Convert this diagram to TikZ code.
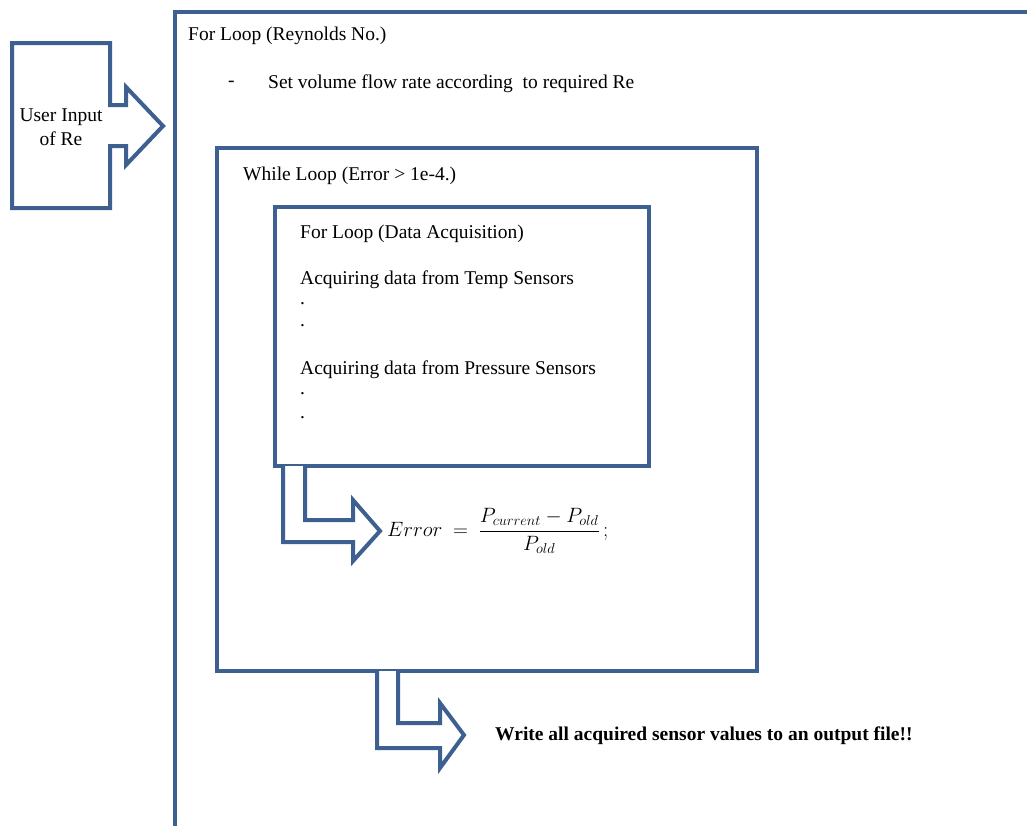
\documentclass[tikz,border=0pt]{standalone}
\usepackage{fontspec}
\setmainfont{Liberation Serif}
\usetikzlibrary{positioning,calc}
\definecolor{loopBlue}{HTML}{3E6091}
\tikzset{
    loopBox/.style={draw=loopBlue, line width=4pt, fill=white},
    blockArrow/.style={draw=loopBlue, line width=4pt, fill=white, line join=miter},
    loopText/.style={font=\fontsize{19.5}{22}\selectfont, anchor=west, inner sep=0pt},
    inputText/.style={font=\fontsize{19.5}{24}\selectfont, align=center, inner sep=0pt},
    outText/.style={loopText, font=\fontsize{19.5}{22}\selectfont\bfseries}
}

\begin{document}
\begin{tikzpicture}[x=1pt,y=-1pt]
    \useasboundingbox (0,0) rectangle (1027,825);
    \clip (0,0) rectangle (1027,825);

    % Loop frames
    \draw[loopBox] (175,12) rectangle (1080,880);
    \draw[loopBox] (217,148) rectangle (757,671);
    \draw[loopBox] (275,207) rectangle (649,466);

    % User input arrow
    \draw[blockArrow] (12,43) -- (110,43) -- (110,105) -- (126,105) -- (126,87)
        -- (163,126) -- (126,165) -- (126,146) -- (110,146) -- (110,208) -- (12,208) -- cycle;
    \node[inputText] (userInput) at (61,127) {User Input\\of Re};

    % Bent arrows
    \draw[blockArrow] (305,466) -- (305,520) -- (353,520) -- (353,500) -- (380,531)
        -- (353,561) -- (353,542) -- (283,542) -- (283,466);
    \draw[blockArrow] (398,671) -- (398,723) -- (440,723) -- (440,703) -- (464,735)
        -- (440,768) -- (440,748) -- (377,748) -- (377,671);

    % Texts
    \node[loopText] (reynoldsTitle) at (188,36) {For Loop (Reynolds No.)};
    \node[loopText] (flowDash) at (228,84) {-};
    \node[loopText] (flowStep) at (268,84) {Set volume flow rate according\ \ to required Re};
    \node[loopText] (whileTitle) at (243,176) {While Loop (Error > 1e-4.)};
    \node[loopText] (daqTitle) at (300,234) {For Loop (Data Acquisition)};
    \node[loopText] (tempLine) at (300,280) {Acquiring data from Temp Sensors};
    \node[loopText] (tempDotA) at (300,304) {.};
    \node[loopText] (tempDotB) at (300,326) {.};
    \node[loopText] (pressLine) at (300,370) {Acquiring data from Pressure Sensors};
    \node[loopText] (pressDotA) at (300,394) {.};
    \node[loopText] (pressDotB) at (300,418) {.};
    \node[loopText, font=\fontsize{19.5}{22}\selectfont] (errorEq) at (387,531)
        {$\displaystyle Error\ =\ \frac{P_{current}-P_{old}}{P_{old}}\,;$};
    \node[outText] (writeOut) at (495,736) {Write all acquired sensor values to an output file!!};
\end{tikzpicture}
\end{document}
